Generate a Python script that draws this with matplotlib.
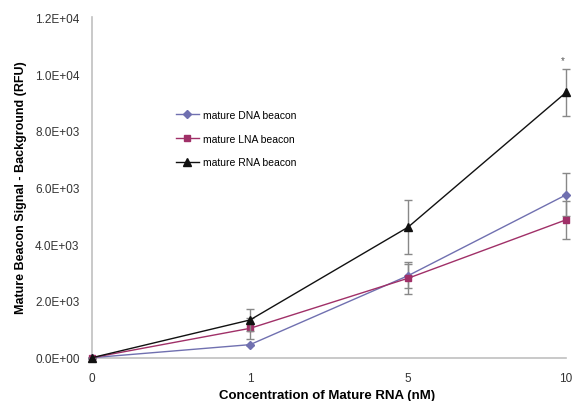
import matplotlib
matplotlib.use("Agg")
import matplotlib.pyplot as plt
from matplotlib.lines import Line2D
import numpy as np

categories = ["0", "1", "5", "10"]
dna = [0, 460, 2890, 5740]
dna_err = [0, 0, 430, 760]
lna = [0, 1035, 2800, 4860]
lna_err = [0, 380, 560, 680]
rna = [0, 1330, 4600, 9350]
rna_err = [0, 400, 950, 840]
yticks = [0, 2000, 4000, 6000, 8000, 10000, 12000]
ytick_labels = ["0.0E+00", "2.0E+03", "4.0E+03", "6.0E+03", "8.0E+03", "1.0E+04", "1.2E+04"]

plt.rcParams['font.family'] = ['Liberation Sans', 'DejaVu Sans']
fig = plt.figure(figsize=(5.74, 4.02), dpi=100)
ax = fig.add_axes([92/574, 1 - 358.7/402, (566-92)/574, (358.7-18.3)/402])

x = np.arange(len(categories))
ecol = "#888888"
series = [
    (dna, dna_err, "#7070b0", "D", 4, "mature DNA beacon", 3),
    (lna, lna_err, "#a03068", "s", 5, "mature LNA beacon", 3),
    (rna, rna_err, "#111111", "^", 5.5, "mature RNA beacon", 4),
]
handles = []
for vals, err, col, mk, ms, lab, z in series:
    eb = ax.errorbar(x, vals, yerr=err, color=col, marker=mk, ms=ms, lw=1,
                     ecolor=ecol, elinewidth=1, capsize=3, zorder=z)
    for art in eb.get_children():
        art.set_clip_on(False)
    handles.append(Line2D([], [], color=col, marker=mk, ms=ms, lw=1, label=lab))
ax.text(x[3] - 0.02, 10500, "*", ha="center", va="center", fontsize=7, color="#555555")

ax.set_xlim(0, 3)
ax.set_ylim(0, 12000)
ax.set_xticks(x)
ax.set_xticklabels(categories)
ax.set_yticks(yticks)
ax.set_yticklabels(ytick_labels)
ax.tick_params(axis="y", length=0, labelsize=8.5, colors="#333333", pad=9)
ax.tick_params(axis="x", length=0, labelsize=8.5, colors="#333333", pad=10)
for s in ["top", "right"]:
    ax.spines[s].set_visible(False)
for s in ["left", "bottom"]:
    ax.spines[s].set_color("#c0c0c0")
    ax.spines[s].set_linewidth(1.2)
fig.text(327/574, 1 - 396/402, "Concentration of Mature RNA (nM)", fontsize=9.5,
         fontweight="bold", ha="center", va="center")
fig.text(21/574, 1 - 188/402, "Mature Beacon Signal - Background (RFU)", fontsize=9,
         fontweight="bold", ha="center", va="center", rotation=90)

ax.legend(handles=handles, loc="upper left", bbox_to_anchor=(0.157, 0.755), frameon=False,
          fontsize=7.5, handlelength=2.2, labelspacing=1.3, handletextpad=0.4)
fig.savefig("out.png", dpi=100)
